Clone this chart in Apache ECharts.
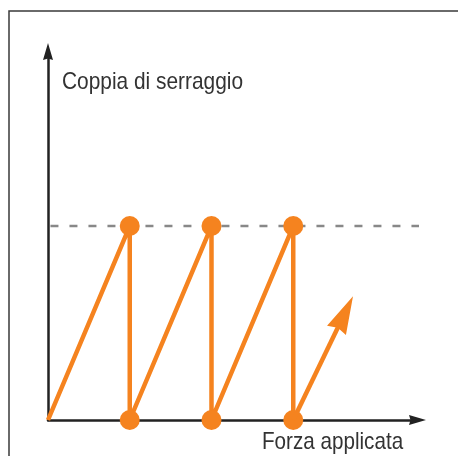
<!DOCTYPE html>
<html>
<head>
<meta charset="utf-8">
<script src="https://cdn.jsdelivr.net/npm/echarts@6/dist/echarts.min.js"></script>
<style>
  html, body { margin: 0; padding: 0; background: #fff; }
  #chart { width: 458px; height: 456px; }
</style>
</head>
<body>
<div id="chart"></div>
<script>
// sawtooth: tighten to target torque, release, repeat
var forceX = [0, 1, 1, 2, 2, 3, 3]
var torqueY = [0, 1, 0, 1, 0, 1, 0]
var targetTorque = 1
var targetFrom = 0.03
var targetTo = 4.65
var lastPush = [3.63, 0.55]
var yLabel = 'Coppia di serraggio'
var xLabel = 'Forza applicata'

var orange = '#F5831F'
var font = '"Liberation Sans", Arial, sans-serif'
var axisHead = 'path://M5,0 L10,17 L5,15.5 L0,17 Z'

var chart = echarts.init(document.getElementById('chart'))

var points = forceX.map(function (x, i) {
  var item = { value: [x, torqueY[i]] }
  if (i === 0) item.symbol = 'none'
  return item
})

var axisStyle = {
  show: true,
  symbol: ['none', axisHead],
  symbolSize: [11, 17],
  lineStyle: { color: '#222', width: 2.5 }
}

chart.setOption({
  animation: false,
  grid: { left: 48, right: 40.5, top: 51.5, bottom: 36 },
  xAxis: {
    type: 'value', min: 0, max: 4.52,
    axisLine: axisStyle,
    axisTick: { show: false }, axisLabel: { show: false }, splitLine: { show: false }
  },
  yAxis: {
    type: 'value', min: 0, max: 1.9,
    axisLine: axisStyle,
    axisTick: { show: false }, axisLabel: { show: false }, splitLine: { show: false }
  },
  graphic: [
    {
      type: 'polyline', silent: true,
      shape: { points: [[9, 456], [9, 11], [458, 11]] },
      style: { stroke: '#3a3a3a', lineWidth: 1.5, fill: null }
    },
    {
      type: 'text', x: 62, y: 82, scaleX: 0.87,
      style: { text: yLabel, font: '24px ' + font, fill: '#333', textAlign: 'left', textVerticalAlign: 'middle' }
    },
    {
      type: 'text', x: 262, y: 442, scaleX: 0.86,
      style: { text: xLabel, font: '24px ' + font, fill: '#333', textAlign: 'left', textVerticalAlign: 'middle' }
    }
  ],
  series: [
    {
      type: 'line', clip: false,
      data: [[targetFrom, targetTorque], [targetTo, targetTorque]],
      symbol: 'none',
      lineStyle: { color: '#888', width: 2.5, type: [8, 11] },
      z: 1
    },
    {
      type: 'line', clip: false,
      data: points,
      symbol: 'circle', symbolSize: 20, showSymbol: true,
      itemStyle: { color: orange },
      lineStyle: { color: orange, width: 4.5 },
      markLine: {
        silent: true,
        symbol: ['none', 'path://M10.5,0 L21,38 L10.5,35 L0,38 Z'],
        symbolSize: [21, 38],
        label: { show: false },
        lineStyle: { color: orange, width: 4.5, type: 'solid' },
        data: [[{ coord: [forceX[6], torqueY[6]] }, { coord: lastPush }]]
      },
      z: 3
    }
  ]
})
</script>
</body>
</html>
